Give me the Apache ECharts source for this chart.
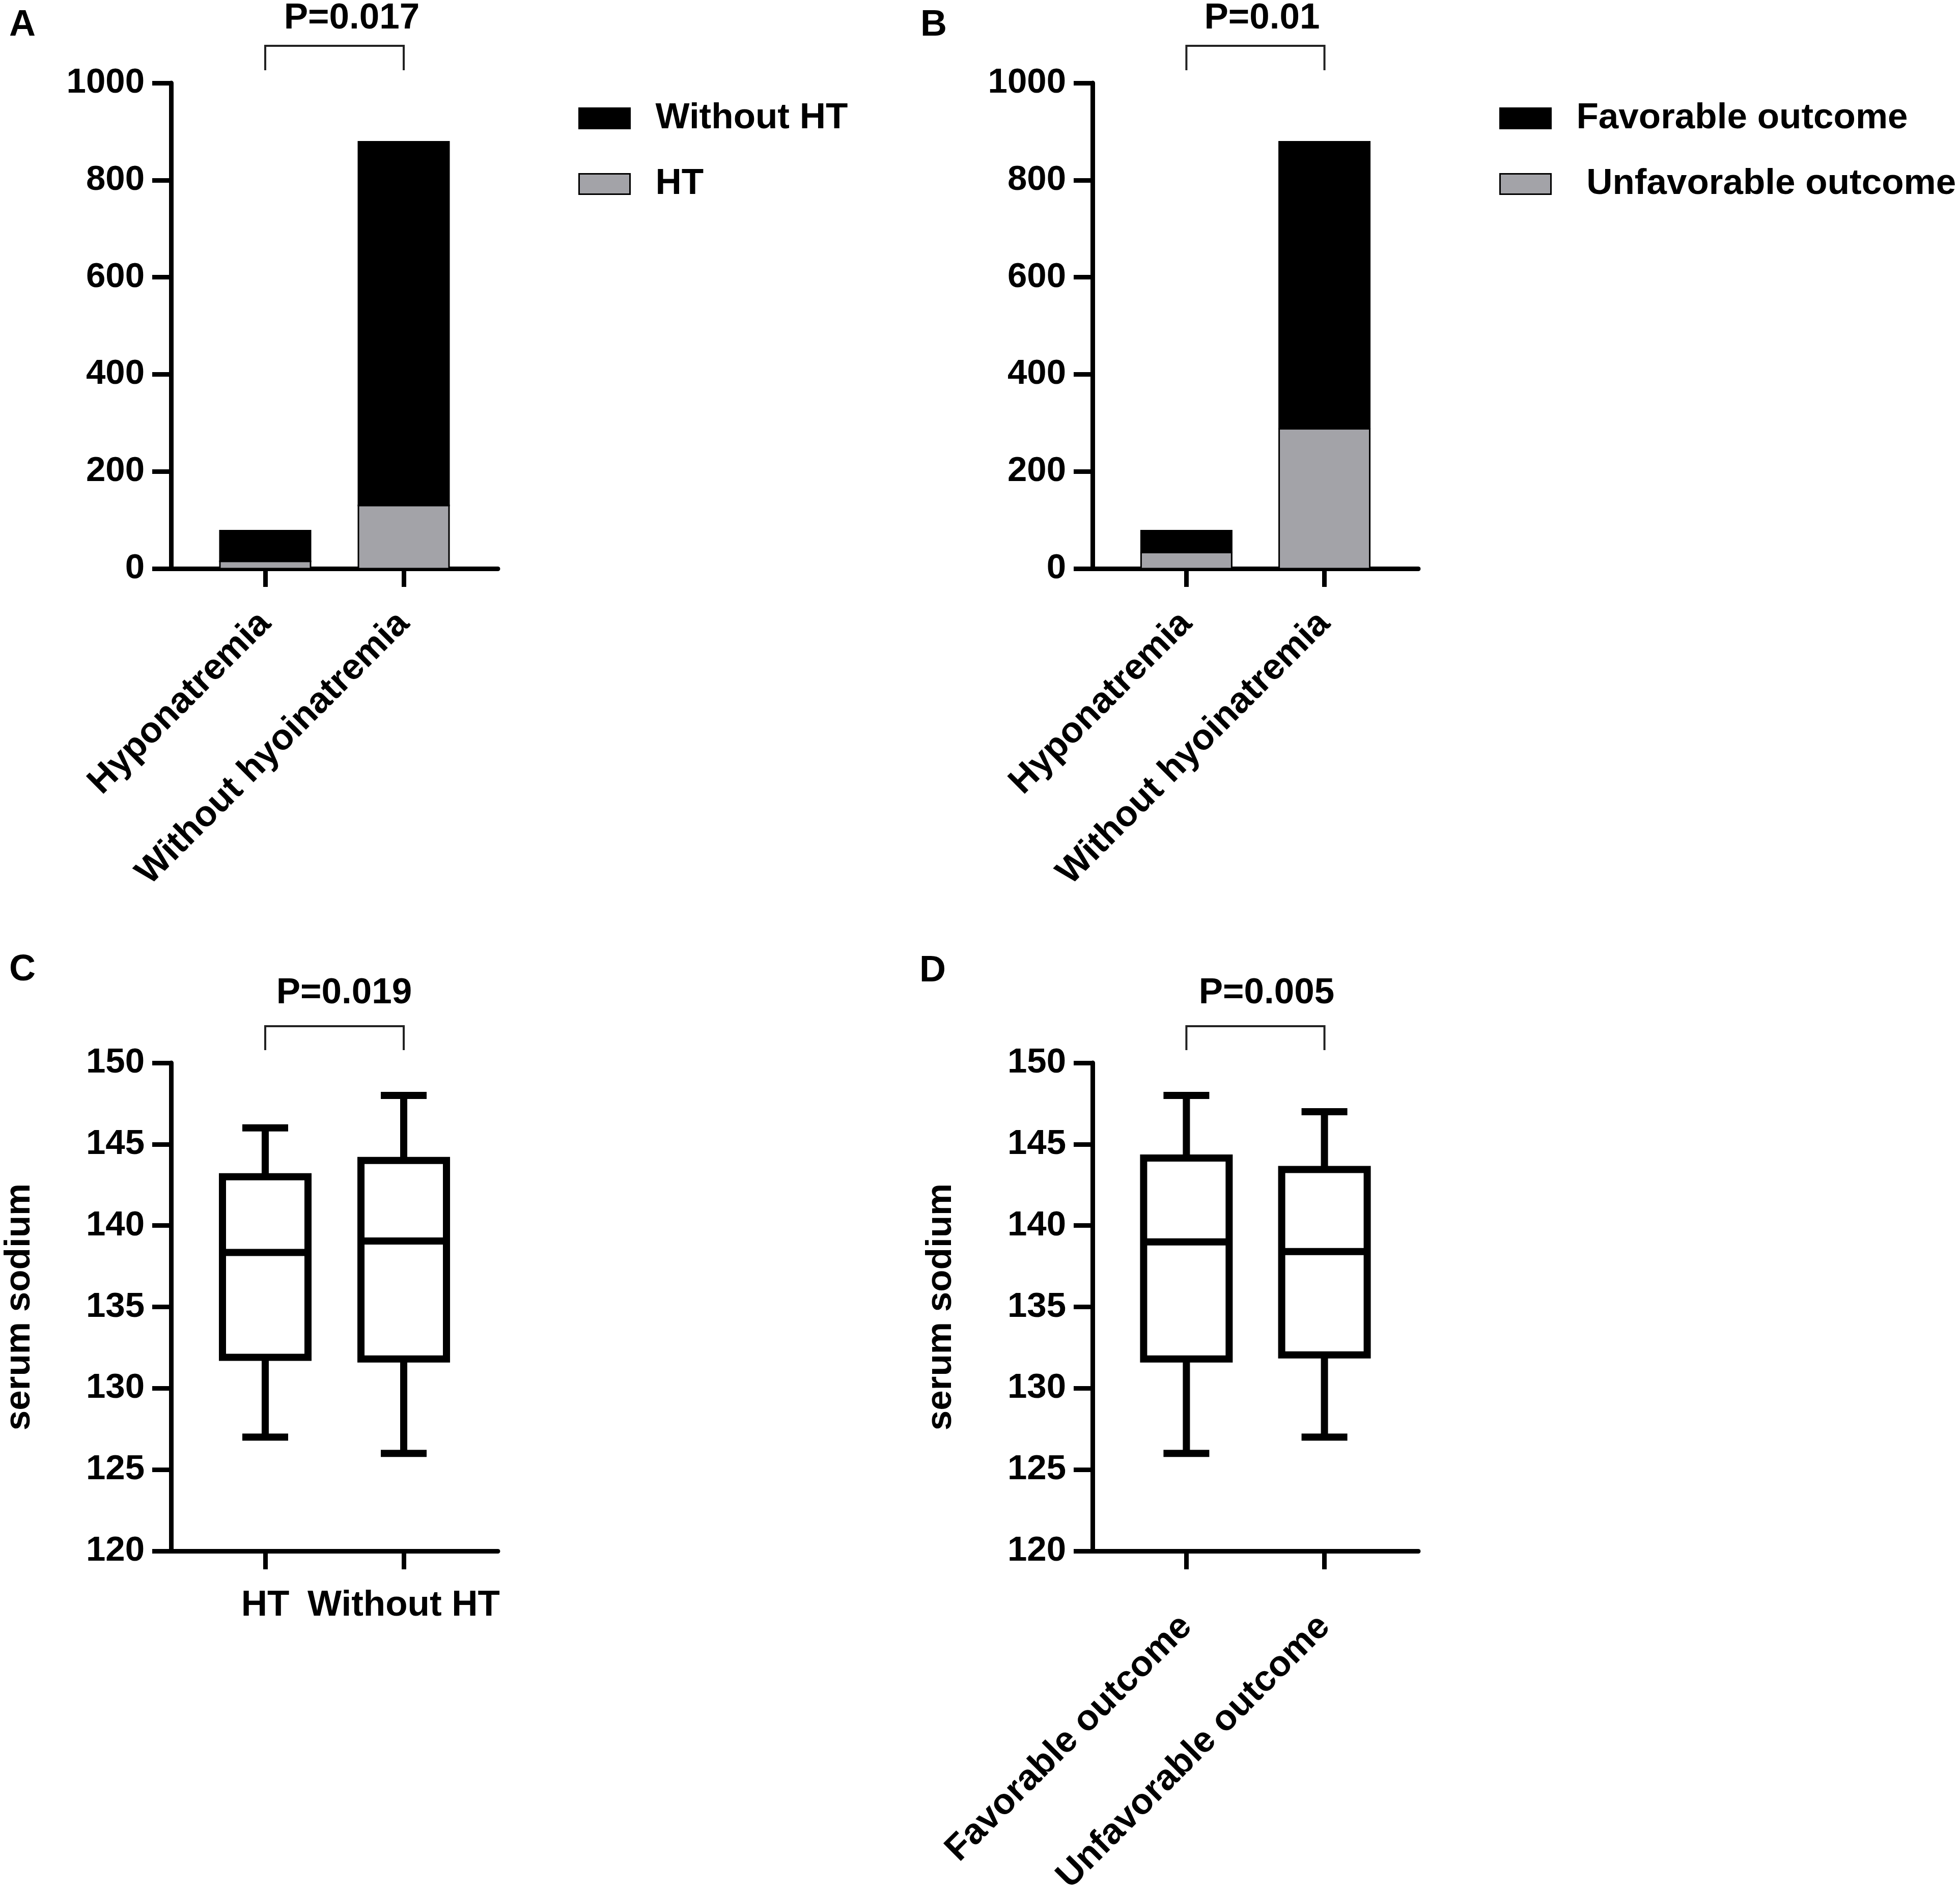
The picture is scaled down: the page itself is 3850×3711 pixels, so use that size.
<!DOCTYPE html>
<html>
<head>
<meta charset="utf-8">
<script src="https://cdn.jsdelivr.net/npm/echarts@6/dist/echarts.min.js"></script>
<style>
  html, body { margin: 0; padding: 0; background: #fff; }
  #chart { width: 3850px; height: 3711px; }
</style>
</head>
<body>
<div id="chart"></div>
<script>
// ---- data ----
const barCategories = ['Hyponatremia', 'Without hyoinatremia'];
const withoutHT = [63, 749];
const withHT = [15, 130];
const favorable = [45, 591];
const unfavorable = [33, 288];

const boxCategoriesC = ['HT', 'Without HT'];
// [min, Q1, median, Q3, max]
const boxHT = [127, 131.9, 138.35, 143, 146];
const boxWithoutHT = [126, 131.8, 139.05, 144, 148];

const boxCategoriesD = ['Favorable outcome', 'Unfavorable outcome'];
const boxFavorable = [126, 131.8, 139, 144.15, 148];
const boxUnfavorable = [127, 132.05, 138.4, 143.45, 147];

const pValues = ['P=0.017', 'P=0.01', 'P=0.019', 'P=0.005'];
const panelLetters = ['A', 'B', 'C', 'D'];

// ---- style constants ----
const FONT = '"Liberation Sans", Arial, sans-serif';
const FS = 71;       // names, legend, p-values
const FS_TICK = 69;  // tick labels
const AXIS_W = 9;
const GREY = '#a3a3a8';

const grids = [
    { left: 336, top: 163, width: 642, height: 954, outerBoundsMode: 'none' },
    { left: 2146, top: 163, width: 640, height: 954, outerBoundsMode: 'none' },
    { left: 336, top: 2088, width: 642, height: 959, outerBoundsMode: 'none' },
    { left: 2146, top: 2088, width: 640, height: 959, outerBoundsMode: 'none' }
];

const textStyle = { color: '#000', fontSize: FS, fontWeight: 'bold', fontFamily: FONT };
const tickText = { color: '#000', fontSize: FS_TICK, fontWeight: 'bold', fontFamily: FONT };

function makeXAxis(gridIndex, labels, rotate, margin) {
    return {
        type: 'value',
        gridIndex: gridIndex,
        min: -0.68,
        max: 1.68,
        splitLine: { show: false },
        axisLine: { show: true, onZero: false, lineStyle: { color: '#000', width: AXIS_W } },
        axisTick: { show: true, length: 36, customValues: [0, 1], lineStyle: { color: '#000', width: AXIS_W } },
        axisLabel: Object.assign({
            customValues: [0, 1],
            rotate: rotate,
            margin: margin,
            formatter: v => labels[Math.round(v)]
        }, textStyle)
    };
}

function makeYAxis(gridIndex, min, max, interval, name) {
    return {
        type: 'value',
        gridIndex: gridIndex,
        min: min,
        max: max,
        interval: interval,
        name: name,
        nameLocation: 'middle',
        nameGap: 262,
        nameTextStyle: textStyle,
        splitLine: { show: false },
        axisLine: { show: true, onZero: false, lineStyle: { color: '#000', width: AXIS_W } },
        axisTick: { show: true, length: 37, lineStyle: { color: '#000', width: AXIS_W } },
        axisLabel: Object.assign({ margin: 52, formatter: v => String(v) }, tickText)
    };
}

// stacked segment: item = [x, base, value]
function renderSegment(params, api) {
    const x = api.value(0);
    const base = api.value(1);
    const a = api.coord([x, base]);
    const b = api.coord([x, base + api.value(2)]);
    const hw = 89;
    return {
        type: 'rect',
        shape: { x: a[0] - hw, y: b[1], width: hw * 2, height: a[1] - b[1] },
        style: { fill: api.visual('color'), stroke: '#000', lineWidth: 3 }
    };
}

function segmentSeries(name, axis, bases, values, color) {
    return {
        type: 'custom',
        name: name,
        xAxisIndex: axis,
        yAxisIndex: axis,
        silent: true,
        renderItem: renderSegment,
        itemStyle: { color: color },
        encode: { x: 0, y: 2 },
        data: values.map((v, i) => [i, bases ? bases[i] : 0, v])
    };
}

// box with half-width whisker caps (Prism style)
function renderBox(params, api) {
    const x = api.value(0);
    const pt = k => api.coord([x, api.value(k)]);
    const lo = pt(1), q1 = pt(2), md = pt(3), q3 = pt(4), hi = pt(5);
    const cx = lo[0];
    const hw = 84, cw = 45;
    const st = { stroke: '#000', lineWidth: 14, fill: 'none' };
    return {
        type: 'group',
        children: [
            { type: 'line', shape: { x1: cx, y1: hi[1], x2: cx, y2: q3[1] }, style: st },
            { type: 'line', shape: { x1: cx - cw, y1: hi[1], x2: cx + cw, y2: hi[1] }, style: st },
            { type: 'line', shape: { x1: cx, y1: q1[1], x2: cx, y2: lo[1] }, style: st },
            { type: 'line', shape: { x1: cx - cw, y1: lo[1], x2: cx + cw, y2: lo[1] }, style: st },
            { type: 'rect', shape: { x: cx - hw, y: q3[1], width: hw * 2, height: q1[1] - q3[1] },
              style: { stroke: '#000', lineWidth: 14, fill: '#fff' } },
            { type: 'line', shape: { x1: cx - hw, y1: md[1], x2: cx + hw, y2: md[1] }, style: st }
        ]
    };
}

function boxSeries(axis, boxes) {
    return {
        type: 'custom',
        xAxisIndex: axis,
        yAxisIndex: axis,
        silent: true,
        renderItem: renderBox,
        encode: { x: 0, y: [1, 2, 3, 4, 5] },
        data: boxes.map((b, i) => [i].concat(b))
    };
}

function makeLegend(names, left) {
    return {
        data: names,
        orient: 'vertical',
        left: left,
        top: 192,
        itemWidth: 100,
        itemHeight: 40,
        itemGap: 58,
        icon: 'rect',
        selectedMode: false,
        itemStyle: { borderColor: '#000', borderWidth: 3 },
        formatter: n => (n === 'Unfavorable outcome' ? ' ' + n : n),
        textStyle: Object.assign({ padding: [0, 0, 0, 45] }, textStyle)
    };
}

const letterPos = [[18, 14], [1808, 14], [18, 1870], [1806, 1872]];

const chart = echarts.init(document.getElementById('chart'), null, { width: 3850, height: 3711 });

chart.setOption({
    backgroundColor: '#fff',
    animation: false,
    title: panelLetters.map((t, i) => ({
        text: t,
        left: letterPos[i][0],
        top: letterPos[i][1],
        padding: 0,
        textStyle: { color: '#000', fontSize: 72, fontWeight: 'bold', fontFamily: FONT }
    })),
    grid: grids,
    legend: [
        makeLegend(['Without HT', 'HT'], 1131),
        makeLegend(['Favorable outcome', 'Unfavorable outcome'], 2940)
    ],
    xAxis: [
        makeXAxis(0, barCategories, 45, 97),
        makeXAxis(1, barCategories, 45, 97),
        makeXAxis(2, boxCategoriesC, 0, 72),
        makeXAxis(3, boxCategoriesD, 45, 138)
    ],
    yAxis: [
        makeYAxis(0, 0, 1000, 200, ''),
        makeYAxis(1, 0, 1000, 200, ''),
        makeYAxis(2, 120, 150, 5, 'serum sodium'),
        makeYAxis(3, 120, 150, 5, 'serum sodium')
    ],
    series: [
        segmentSeries('HT', 0, null, withHT, GREY),
        segmentSeries('Without HT', 0, withHT, withoutHT, '#000'),
        segmentSeries('Unfavorable outcome', 1, null, unfavorable, GREY),
        segmentSeries('Favorable outcome', 1, unfavorable, favorable, '#000'),
        boxSeries(2, [boxHT, boxWithoutHT]),
        boxSeries(3, [boxFavorable, boxUnfavorable])
    ]
});

// significance brackets and p-values, placed from the axes
const yTopValue = [1000, 1000, 150, 150];
const bracketRise = [73, 73, 72, 72];
const labelRise = [127, 127, 137, 137];
const labelShift = [34, 13, 19, 22];
const graphics = [];
for (let i = 0; i < 4; i++) {
    const p0 = chart.convertToPixel({ gridIndex: i }, [0, yTopValue[i]]);
    const p1 = chart.convertToPixel({ gridIndex: i }, [1, yTopValue[i]]);
    const top = p0[1] - bracketRise[i];
    const bottom = p0[1] - 25;
    graphics.push({
        type: 'polyline',
        shape: { points: [[p0[0], bottom], [p0[0], top], [p1[0], top], [p1[0], bottom]] },
        style: { stroke: '#222', lineWidth: 4, fill: 'none' },
        silent: true
    });
    graphics.push({
        type: 'text',
        x: (p0[0] + p1[0]) / 2 + labelShift[i],
        y: p0[1] - labelRise[i],
        style: {
            text: pValues[i],
            fill: '#000',
            font: 'bold ' + FS + 'px ' + FONT,
            align: 'center',
            verticalAlign: 'middle',
            textAlign: 'center',
            textVerticalAlign: 'middle'
        },
        silent: true
    });
}
chart.setOption({ graphic: graphics });
</script>
</body>
</html>
